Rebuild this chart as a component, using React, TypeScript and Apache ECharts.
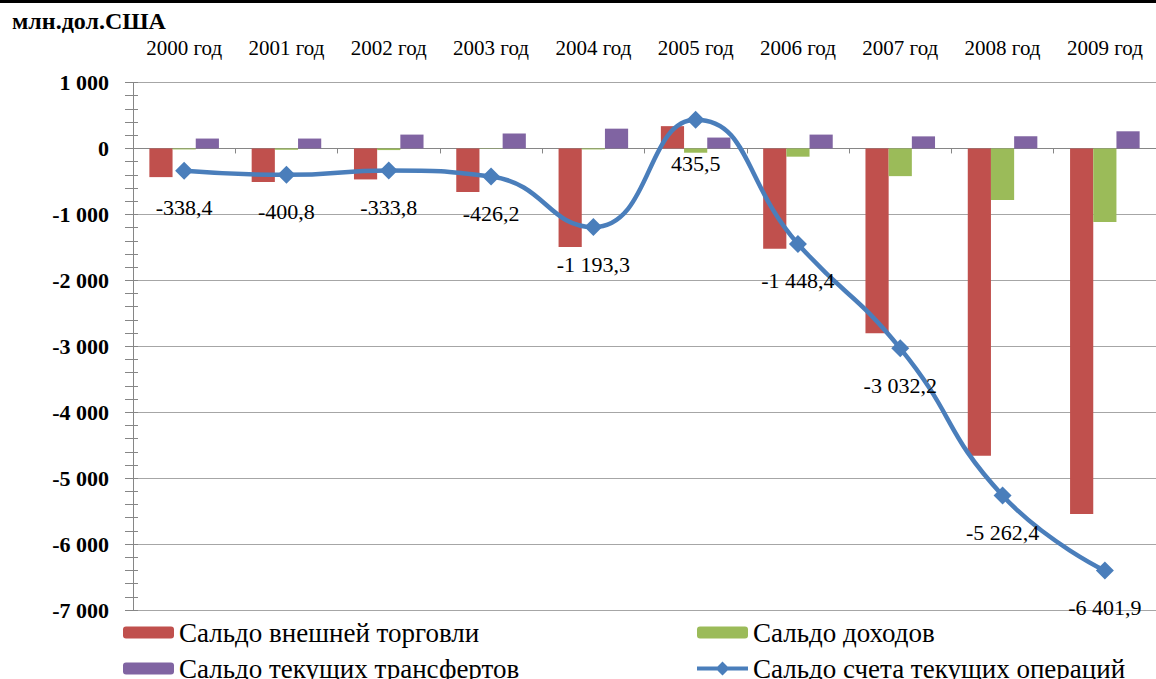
import React, { useEffect, useRef } from "react";
import * as echarts from "echarts";

// Balance of payments components, million US dollars
const categories = [
  "2000 год", "2001 год", "2002 год", "2003 год", "2004 год",
  "2005 год", "2006 год", "2007 год", "2008 год", "2009 год",
];
const tradeBalance = [-435, -510, -470, -662, -1495, 338, -1520, -2803, -4662, -5545];
const incomeBalance = [-15, -20, -25, -5, -15, -65, -125, -420, -783, -1117];
const transfersBalance = [150, 150, 210, 225, 300, 165, 210, 183, 183, 260];
const currentAccount = [-338.4, -400.8, -333.8, -426.2, -1193.3, 435.5, -1448.4, -3032.2, -5262.4, -6401.9];

const seriesNames = [
  "Сальдо внешней торговли",
  "Сальдо доходов",
  "Сальдо текущих трансфертов",
  "Сальдо счета текущих операций",
];
const unitTitle = "млн.дол.США";

const SERIF = "Liberation Serif";

// Legend glyph for the line series: thick stroke with a diamond marker in the middle
const LINE_MARKER_ICON =
  "path://M0,5 L20.5,5 L25.5,0 L30.5,5 L51,5 L51,9 L30.5,9 L25.5,14 L20.5,9 L0,9 Z";

function fmtNumber(v: number, decimals: number): string {
  const neg = v < 0;
  const abs = Math.abs(v);
  const fixed = abs.toFixed(decimals);
  const [intPart, frac] = fixed.split(".");
  const grouped = intPart.replace(/\B(?=(\d{3})+(?!\d))/g, " ");
  return (neg ? "-" : "") + grouped + (frac ? "," + frac : "");
}

export default function App() {
  const ref = useRef<HTMLDivElement>(null);

  useEffect(() => {
    if (!ref.current) return;
    const chart = echarts.init(ref.current, null, { renderer: "svg" });

    const yCommon = {
      type: "value" as const,
      min: -7000,
      max: 1000,
      interval: 1000,
      position: "left" as const,
    };

    const legendBase = {
      orient: "horizontal" as const,
      padding: 0,
      itemWidth: 51,
      itemHeight: 12,
      textStyle: { fontFamily: SERIF, fontSize: 27, color: "#000", lineHeight: 27 },
    };

    chart.setOption({
      animation: false,
      backgroundColor: "#fff",
      textStyle: { fontFamily: SERIF },
      title: {
        text: unitTitle,
        left: 12,
        top: 9,
        padding: 0,
        textStyle: { fontFamily: SERIF, fontSize: 24, fontWeight: "bold", color: "#000" },
      },
      graphic: [
        { type: "rect", left: 0, top: 0, shape: { width: 1156, height: 3 }, style: { fill: "#000" } },
      ],
      grid: { left: 133, top: 82.5, width: 1030, height: 527.5 },
      legend: [
        { ...legendBase, data: [seriesNames[0]], left: 123, top: 619 },
        { ...legendBase, data: [seriesNames[1]], left: 697, top: 619 },
        { ...legendBase, data: [seriesNames[2]], left: 123, top: 655 },
        {
          ...legendBase,
          itemHeight: 14,
          icon: LINE_MARKER_ICON,
          data: [seriesNames[3]],
          left: 697,
          top: 655,
        },
      ],
      xAxis: [
        {
          type: "category",
          data: categories,
          position: "bottom",
          axisLine: { onZero: true, lineStyle: { color: "#868686", width: 1 } },
          axisTick: { show: true, length: 5, lineStyle: { color: "#868686" } },
          axisLabel: { show: false },
          splitLine: { show: false },
        },
        {
          type: "category",
          data: categories,
          position: "top",
          axisLine: { show: false, onZero: false },
          axisTick: { show: false },
          axisLabel: {
            show: true,
            margin: 24,
            fontFamily: SERIF,
            fontSize: 21,
            color: "#000",
          },
          splitLine: { show: false },
        },
      ],
      yAxis: [
        {
          ...yCommon,
          axisLine: { show: true, lineStyle: { color: "#868686", width: 1 } },
          axisTick: { show: true, length: 8, lineStyle: { color: "#868686" } },
          minorTick: { show: true, splitNumber: 5, length: 8, lineStyle: { color: "#868686" } },
          axisLabel: {
            margin: 24,
            fontFamily: SERIF,
            fontSize: 22,
            fontWeight: "bold",
            color: "#000",
            formatter: (v: number) => fmtNumber(v, 0),
          },
          splitLine: { show: true, lineStyle: { color: "#A6A6A6", width: 1 } },
        },
        {
          ...yCommon,
          axisLine: { show: false },
          axisTick: { show: true, inside: true, length: 5, lineStyle: { color: "#868686" } },
          minorTick: { show: true, splitNumber: 5, length: 5, lineStyle: { color: "#868686" } },
          axisLabel: { show: false },
          splitLine: { show: false },
        },
      ],
      series: [
        {
          name: seriesNames[0],
          type: "bar",
          data: tradeBalance,
          barGap: "0%",
          barCategoryGap: "32%",
          itemStyle: { color: "#C0504D" },
          z: 2,
        },
        {
          name: seriesNames[1],
          type: "bar",
          data: incomeBalance,
          barGap: "0%",
          barCategoryGap: "32%",
          itemStyle: { color: "#9BBB59" },
          z: 2,
        },
        {
          name: seriesNames[2],
          type: "bar",
          data: transfersBalance,
          barGap: "0%",
          barCategoryGap: "32%",
          itemStyle: { color: "#8064A2" },
          z: 2,
        },
        {
          name: seriesNames[3],
          type: "line",
          data: currentAccount.map((v, i) =>
            i === 5 ? { value: v, label: { distance: 24 } } : v
          ),
          smooth: 0.5,
          symbol: "diamond",
          symbolSize: 18,
          lineStyle: { color: "#4A7EBB", width: 4.5 },
          itemStyle: { color: "#4A7EBB" },
          label: {
            show: true,
            position: "bottom",
            distance: 17,
            fontFamily: SERIF,
            fontSize: 22,
            color: "#000",
            formatter: (p: any) => fmtNumber(p.value, 1),
          },
          z: 5,
        },
      ],
    });

    return () => chart.dispose();
  }, []);

  return (
    <div
      ref={ref}
      style={{ position: "fixed", left: 0, top: 0, width: 1156, height: 679 }}
    />
  );
}
